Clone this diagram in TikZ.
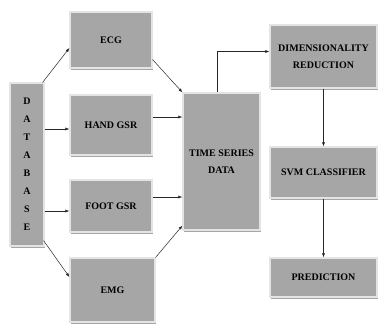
\documentclass[tikz,border=0pt]{standalone}
\usepackage{fontspec}
\setmainfont{Liberation Serif}
\usetikzlibrary{calc, positioning, arrows.meta, shadows}
\definecolor{boxfill}{RGB}{166, 166, 166}
\definecolor{boxedge}{RGB}{228, 228, 228}

\begin{document}
\begin{tikzpicture}[x=1pt, y=-1pt,
  blk/.style={draw=boxedge, line width=1.2pt, fill=boxfill, align=center, inner sep=2pt,
    font=\fontsize{10}{17}\selectfont\bfseries,
    drop shadow={shadow xshift=0.6pt, shadow yshift=-2pt, fill=black!35, opacity=1}},
  link/.style={-{Latex[length=4pt, width=3pt]}, line width=0.5pt, black!85}]
  \useasboundingbox (0,0) rectangle (379,325);
  \node[blk, minimum width=34pt, minimum height=163pt, font=\fontsize{10}{18}\selectfont\bfseries] (db) at (27,164.5) {D\\A\\T\\A\\B\\A\\S\\E};
  \node[blk, minimum width=82pt, minimum height=56pt] (ecg) at (111,40) {ECG};
  \node[blk, minimum width=82pt, minimum height=60pt] (hand) at (111,125) {HAND GSR};
  \node[blk, minimum width=82pt, minimum height=52pt] (foot) at (111,206) {FOOT GSR};
  \node[blk, minimum width=85pt, minimum height=64pt] (emg) at (112.5,290) {EMG};
  \node[blk, minimum width=77pt, minimum height=137pt] (ts) at (221.5,161.5) {TIME SERIES\\DATA};
  \node[blk, minimum width=107pt, minimum height=63pt] (dr) at (323.5,56.5) {DIMENSIONALITY\\REDUCTION};
  \node[blk, minimum width=107pt, minimum height=51pt] (svm) at (323.5,172.5) {SVM CLASSIFIER};
  \node[blk, minimum width=107pt, minimum height=39pt] (pred) at (323.5,277.5) {PREDICTION};
  \coordinate (handin) at ($(hand.west)+(0,4)$);
  \coordinate (footin) at ($(foot.west)+(0,5)$);
  \coordinate (handout) at ($(hand.east)+(0,-8)$);
  \coordinate (footout) at ($(foot.east)+(0,-9)$);
  \draw[link] ($(db.north east)+(-2,0)$) -- ($(ecg.west)+(0,8)$);
  \draw[link] (db.east |- handin) -- (handin);
  \draw[link] (db.east |- footin) -- (footin);
  \draw[link] ($(db.south east)+(-1,-6)$) -- ($(emg.west)+(0,-13)$);
  \draw[link] ($(ecg.south east)+(0,-9)$) -- (ts.north west);
  \draw[link] (handout) -- (ts.west |- handout);
  \draw[link] (footout) -- (ts.west |- footout);
  \draw[link] (emg.north east) -- ($(ts.south west)+(0,-5)$);
  \draw[link] ($(ts.north)+(-4,0)$) |- ($(dr.west)+(0,-5)$);
  \draw[link] (dr.south) -- (svm.north);
  \draw[link] (svm.south) -- (pred.north);
\end{tikzpicture}
\end{document}
